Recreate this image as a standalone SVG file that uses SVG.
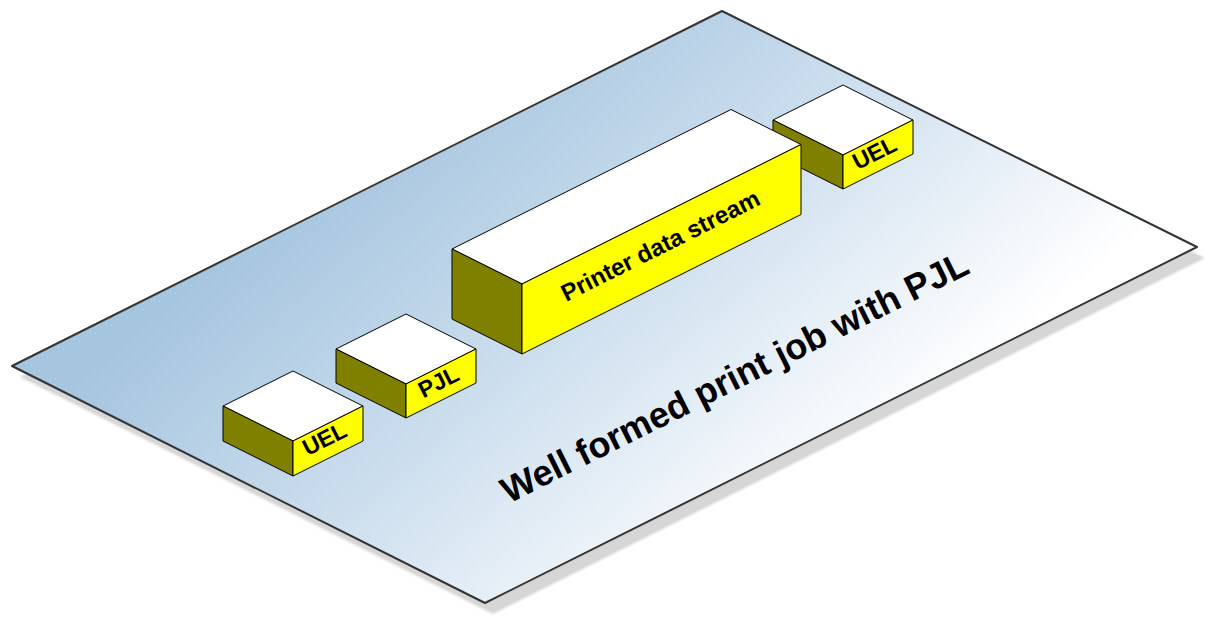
<svg xmlns="http://www.w3.org/2000/svg" width="1209" height="618" viewBox="0 0 1209 618">
<defs>
<linearGradient id="planeGrad" gradientUnits="userSpaceOnUse" x1="380" y1="120" x2="760" y2="560">
<stop offset="0" stop-color="#a6c5df"/>
<stop offset="0.45" stop-color="#cadded"/>
<stop offset="1" stop-color="#ffffff"/>
</linearGradient>
<filter id="blur" x="-5%" y="-5%" width="110%" height="110%"><feGaussianBlur stdDeviation="1.2"/></filter>
<style>
.edge{stroke:#000;stroke-width:1;stroke-linejoin:round}
.top{fill:#ffffff}
.side{fill:#808000}
.front{fill:#ffff00}
.lbl{font-family:"Liberation Sans",Arial,sans-serif;font-weight:bold;fill:#000;text-anchor:middle}
</style>
</defs>
<rect width="1209" height="618" fill="#ffffff"/>
<g id="plane">
<polygon points="20,377 730,22 1205,258 493,614" fill="#d6d6d6" filter="url(#blur)"/>
<polygon points="12,366 722,11 1197,247 485,603" fill="url(#planeGrad)" stroke="#333" stroke-width="2" stroke-linejoin="round"/>
<text class="lbl" font-size="36" transform="translate(740,388) rotate(-26.57)">Well formed print job with PJL</text>
</g>
<g id="uel-end">
<polygon class="top edge" points="843,85 913,120 843,155 773,120"/>
<polygon class="side edge" points="773,120 843,155 843,189 773,154"/>
<polygon class="front edge" points="843,155 913,120 913,154 843,189"/>
<text class="lbl" font-size="23" transform="translate(878,160) rotate(-26.57)">UEL</text>
</g>
<g id="printer-data-stream">
<polygon class="top edge" points="731,109.5 801,144.5 522,284 452,249"/>
<polygon class="side edge" points="452,249 522,284 522,354 452,319"/>
<polygon class="front edge" points="522,284 801,144.5 801,214.5 522,354"/>
<text class="lbl" font-size="24" transform="translate(664,253) rotate(-26.57)">Printer data stream</text>
</g>
<g id="pjl">
<polygon class="top edge" points="406,314 476,349 406,384 336,349"/>
<polygon class="side edge" points="336,349 406,384 406,418 336,383"/>
<polygon class="front edge" points="406,384 476,349 476,383 406,418"/>
<text class="lbl" font-size="23" transform="translate(442,389) rotate(-26.57)">PJL</text>
</g>
<g id="uel-start">
<polygon class="top edge" points="293,371 363,406 293,441 223,406"/>
<polygon class="side edge" points="223,406 293,441 293,476 223,441"/>
<polygon class="front edge" points="293,441 363,406 363,441 293,476"/>
<text class="lbl" font-size="23" transform="translate(328,446) rotate(-26.57)">UEL</text>
</g>
<g id="connectors"></g>
</svg>
